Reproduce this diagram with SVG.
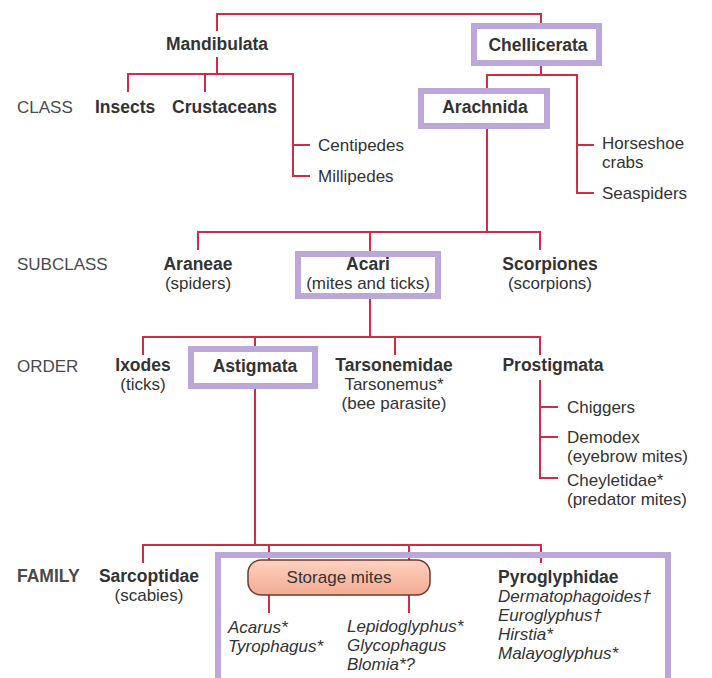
<svg xmlns="http://www.w3.org/2000/svg" width="712" height="678" viewBox="0 0 712 678">
<defs>
<style>
text{font-family:"Liberation Sans",Arial,sans-serif;font-size:17px;fill:#333333}
.b{font-weight:bold;font-size:17.5px}
.i{font-style:italic}
.m{text-anchor:middle}
.lvl{fill:#4a4a4a}
.hl{fill:#ffffff;stroke:#bca8d8;stroke-width:6}
#connectors path{fill:none;stroke:#cf2d45;stroke-width:2}
</style>
<linearGradient id="pill" x1="0" y1="0" x2="0" y2="1">
<stop offset="0" stop-color="#fcd2bf"/>
<stop offset="1" stop-color="#f5ab92"/>
</linearGradient>
</defs>
<rect width="712" height="678" fill="#ffffff"/>
<g id="connectors">
<path d="M217 31V14H541V26"/>
<path d="M217 57V74M128 92V74H293V176H310M205 74V92M293 145H310"/>
<path d="M541 62V75M487 88V75H577V193H594M577 145H594"/>
<path d="M487 126V232M198 250V232H540V250M370 232V254"/>
<path d="M370 296V337M143 355V337H540V355M255 337V348M395 337V355"/>
<path d="M540 380V478H558M540 407H558M540 437H558"/>
<path d="M255 386V545M143 563V545H541V563M269 545V562M409 545V562"/>
<path d="M269 595V613M409 595V613"/>
</g>
<g id="levels">
<text class="lvl" x="17" y="113">CLASS</text>
<text class="lvl" x="17" y="270">SUBCLASS</text>
<text class="lvl" x="17" y="372">ORDER</text>
<text class="lvl b" x="17" y="582">FAMILY</text>
</g>
<g id="mandibulata"><text class="b m" x="217" y="50">Mandibulata</text></g>
<g id="chellicerata"><rect class="hl" x="474" y="26" width="125" height="37"/><text class="b m" x="538" y="51">Chellicerata</text></g>
<g id="insects"><text class="b" x="95" y="113">Insects</text></g>
<g id="crustaceans"><text class="b" x="172" y="113">Crustaceans</text></g>
<g id="centipedes"><text x="318" y="151">Centipedes</text></g>
<g id="millipedes"><text x="318" y="182">Millipedes</text></g>
<g id="arachnida"><rect class="hl" x="421" y="91" width="126" height="35"/><text class="b m" x="485" y="113">Arachnida</text></g>
<g id="horseshoe"><text x="602" y="149">Horseshoe</text><text x="602" y="168">crabs</text></g>
<g id="seaspiders"><text x="602" y="199">Seaspiders</text></g>
<g id="araneae"><text class="b m" x="198" y="270">Araneae</text><text class="m" x="198" y="289">(spiders)</text></g>
<g id="acari"><rect class="hl" x="298" y="254" width="140" height="42"/><text class="b m" x="368" y="270">Acari</text><text class="m" x="368" y="289">(mites and ticks)</text></g>
<g id="scorpiones"><text class="b m" x="550" y="270">Scorpiones</text><text class="m" x="550" y="289">(scorpions)</text></g>
<g id="ixodes"><text class="b m" x="143" y="371">Ixodes</text><text class="m" x="143" y="390">(ticks)</text></g>
<g id="astigmata"><rect class="hl" x="191" y="349" width="124" height="37"/><text class="b m" x="255" y="372">Astigmata</text></g>
<g id="tarsonemidae"><text class="b m" x="394" y="371">Tarsonemidae</text><text class="m" x="394" y="390">Tarsonemus*</text><text class="m" x="394" y="409">(bee parasite)</text></g>
<g id="prostigmata"><text class="b m" x="553" y="371">Prostigmata</text></g>
<g id="chiggers"><text x="567" y="413">Chiggers</text></g>
<g id="demodex"><text x="567" y="443">Demodex</text><text x="567" y="462">(eyebrow mites)</text></g>
<g id="cheyletidae"><text x="567" y="486">Cheyletidae*</text><text x="567" y="505">(predator mites)</text></g>
<g id="sarcoptidae"><text class="b m" x="149" y="582">Sarcoptidae</text><text class="m" x="149" y="601">(scabies)</text></g>
<g id="family-box"><rect x="218" y="555" width="450" height="130" fill="none" stroke="#bca8d8" stroke-width="6"/></g>
<g id="storage-mites"><rect x="248" y="560" width="182" height="35" rx="13" fill="url(#pill)" stroke="#6b3b30" stroke-width="1.5"/><text class="m" x="339" y="583">Storage mites</text></g>
<g id="acarus"><text class="i" x="228" y="633">Acarus*</text><text class="i" x="228" y="652">Tyrophagus*</text></g>
<g id="lepidoglyphus"><text class="i" x="347" y="632">Lepidoglyphus*</text><text class="i" x="347" y="651">Glycophagus</text><text class="i" x="347" y="670">Blomia*?</text></g>
<g id="pyroglyphidae"><text class="b" x="498" y="583">Pyroglyphidae</text><text class="i" x="498" y="602">Dermatophagoides†</text><text class="i" x="498" y="621">Euroglyphus†</text><text class="i" x="498" y="640">Hirstia*</text><text class="i" x="498" y="659">Malayoglyphus*</text></g>
</svg>
